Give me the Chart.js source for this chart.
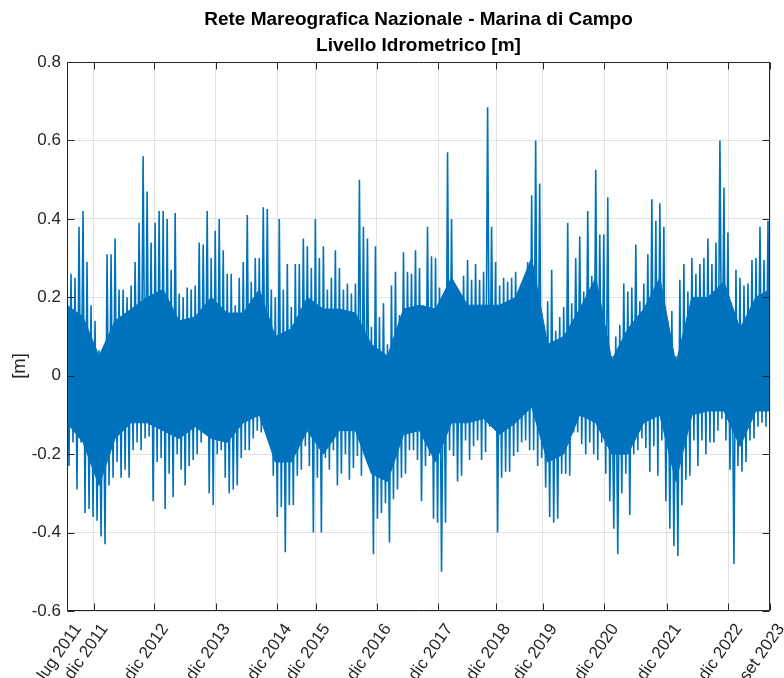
<!DOCTYPE html>
<html>
<head>
<meta charset="utf-8">
<title>Marina di Campo - Livello Idrometrico</title>
<script src="https://cdn.jsdelivr.net/npm/chart.js@4.4.1/dist/chart.umd.min.js"></script>
<style>
  html, body { margin: 0; padding: 0; background: #ffffff; }
  #wrap { width: 784px; height: 678px; position: relative; }
</style>
</head>
<body>
<div id="wrap"><canvas id="chart" width="784" height="678"></canvas></div>
<script>
// Sea level extremes per block of samples: highest and lowest reading [m]
const upperLevel = [
  0.29, 0.26, 0.25, 0.38, 0.42, 0.29, 0.18, 0.14, 0.065, 0.07,
  0.31, 0.31, 0.35, 0.22, 0.22, 0.20, 0.23, 0.29, 0.39, 0.56,
  0.47, 0.34, 0.39, 0.42, 0.42, 0.40, 0.27, 0.415, 0.21, 0.20,
  0.225, 0.22, 0.23, 0.34, 0.335, 0.42, 0.30, 0.37, 0.40, 0.32,
  0.26, 0.26, 0.18, 0.25, 0.29, 0.41, 0.24, 0.30, 0.30, 0.43,
  0.425, 0.22, 0.20, 0.40, 0.22, 0.285, 0.175, 0.285, 0.285, 0.35,
  0.33, 0.275, 0.40, 0.30, 0.33, 0.22, 0.25, 0.32, 0.275, 0.22,
  0.235, 0.21, 0.235, 0.50, 0.38, 0.35, 0.125, 0.33, 0.15, 0.185,
  0.08, 0.23, 0.265, 0.155, 0.315, 0.265, 0.26, 0.32, 0.275, 0.18,
  0.38, 0.305, 0.30, 0.225, 0.13, 0.57, 0.40, 0.225, 0.175, 0.255,
  0.295, 0.245, 0.285, 0.245, 0.265, 0.685, 0.38, 0.29, 0.23, 0.25,
  0.24, 0.25, 0.265, 0.215, 0.215, 0.29, 0.46, 0.60, 0.49, 0.13,
  0.19, 0.27, 0.115, 0.15, 0.175, 0.39, 0.185, 0.30, 0.355, 0.215,
  0.42, 0.255, 0.525, 0.36, 0.36, 0.455, 0.05, 0.10, 0.13, 0.235,
  0.215, 0.225, 0.335, 0.19, 0.235, 0.31, 0.45, 0.395, 0.44, 0.38,
  0.14, 0.165, 0.05, 0.245, 0.285, 0.215, 0.30, 0.26, 0.285, 0.30,
  0.35, 0.285, 0.34, 0.60, 0.48, 0.365, 0.13, 0.27, 0.25, 0.23,
  0.235, 0.295, 0.30, 0.38, 0.295, 0.395
];
const lowerLevel = [
  -0.23, -0.17, -0.29, -0.17, -0.35, -0.34, -0.36, -0.37, -0.41, -0.43,
  -0.28, -0.26, -0.22, -0.26, -0.24, -0.26, -0.19, -0.17, -0.19, -0.16,
  -0.155, -0.32, -0.22, -0.21, -0.34, -0.25, -0.31, -0.20, -0.24, -0.28,
  -0.23, -0.215, -0.20, -0.17, -0.145, -0.30, -0.33, -0.20, -0.19, -0.26,
  -0.30, -0.29, -0.28, -0.21, -0.19, -0.19, -0.16, -0.14, -0.145, -0.14,
  -0.13, -0.255, -0.36, -0.335, -0.45, -0.33, -0.33, -0.255, -0.24, -0.18,
  -0.23, -0.40, -0.26, -0.40, -0.21, -0.24, -0.19, -0.28, -0.25, -0.20,
  -0.265, -0.235, -0.205, -0.255, -0.17, -0.205, -0.455, -0.365, -0.35, -0.325,
  -0.425, -0.315, -0.29, -0.26, -0.25, -0.19, -0.19, -0.215, -0.32, -0.23,
  -0.205, -0.365, -0.375, -0.50, -0.375, -0.19, -0.205, -0.27, -0.255, -0.165,
  -0.215, -0.18, -0.165, -0.215, -0.195, -0.13, -0.13, -0.40, -0.26, -0.245,
  -0.245, -0.205, -0.195, -0.17, -0.165, -0.19, -0.19, -0.23, -0.21, -0.285,
  -0.36, -0.375, -0.365, -0.25, -0.25, -0.255, -0.145, -0.145, -0.175, -0.20,
  -0.17, -0.20, -0.215, -0.17, -0.25, -0.32, -0.39, -0.455, -0.30, -0.25,
  -0.355, -0.20, -0.19, -0.16, -0.185, -0.245, -0.18, -0.255, -0.165, -0.32,
  -0.39, -0.435, -0.46, -0.33, -0.265, -0.255, -0.165, -0.23, -0.165, -0.20,
  -0.17, -0.17, -0.14, -0.11, -0.165, -0.24, -0.48, -0.23, -0.245, -0.22,
  -0.165, -0.16, -0.13, -0.12, -0.13, -0.135
];

// Dense tidal band (where the trace is solid), every 4 blocks [m]
const bandPositions = [
  0, 4, 8, 12, 16, 20, 24, 28, 32, 36, 40, 44, 48, 52, 56, 60, 64, 68, 72, 76, 80, 84,
  88, 92, 96, 100, 104, 108, 112, 116, 120, 124, 128, 132, 136, 140, 144, 148, 152, 156,
  160, 164, 168, 172, 175.5
];
const bandUpper = [
  0.18, 0.15, 0.05, 0.14, 0.17, 0.20, 0.22, 0.14, 0.15, 0.20, 0.16, 0.16, 0.22, 0.10, 0.12,
  0.20, 0.17, 0.17, 0.16, 0.08, 0.05, 0.17, 0.18, 0.17, 0.25, 0.18, 0.18, 0.18, 0.20, 0.30,
  0.08, 0.10, 0.17, 0.25, 0.04, 0.12, 0.17, 0.25, 0.03, 0.20, 0.20, 0.24, 0.12, 0.20, 0.22
];
const bandLower = [
  -0.12, -0.17, -0.28, -0.16, -0.12, -0.12, -0.14, -0.16, -0.13, -0.16, -0.17, -0.12, -0.10, -0.22, -0.22,
  -0.14, -0.20, -0.14, -0.14, -0.25, -0.27, -0.15, -0.14, -0.22, -0.12, -0.12, -0.11, -0.15, -0.12, -0.08,
  -0.22, -0.20, -0.10, -0.12, -0.20, -0.20, -0.12, -0.10, -0.27, -0.10, -0.09, -0.09, -0.18, -0.09, -0.09
];

// Date ticks along the sample axis
const dateTickPositions = [0, 6.65, 21.75, 37.15, 52.45, 62.08, 77.33, 92.7, 107.1, 118.8, 134.1, 149.75, 165.1, 175.5];
const dateTickLabels = ['lug 2011', 'dic 2011', 'dic 2012', 'dic 2013', 'dic 2014', 'dic 2015', 'dic 2016',
                        'dic 2017', 'dic 2018', 'dic 2019', 'dic 2020', 'dic 2021', 'dic 2022', 'set 2023'];
const levelTicks = [-0.6, -0.4, -0.2, 0, 0.2, 0.4, 0.6, 0.8];

const titleLines = ['Rete Mareografica Nazionale - Marina di Campo', 'Livello Idrometrico [m]'];
const yAxisLabel = '[m]';

const TRACE = '#0072BD';

// Each block is traced from its high to its low reading
const spikes = [];
upperLevel.forEach((hi, i) => {
  spikes.push({ x: i, y: hi });
  spikes.push({ x: i + 0.5, y: lowerLevel[i] });
});
const bandTop = bandPositions.map((x, i) => ({ x, y: bandUpper[i] }));
const bandBottom = bandPositions.map((x, i) => ({ x, y: bandLower[i] }));

const FONT = "'Liberation Sans', Arial, Helvetica, sans-serif";
const AXIS_COLOR = '#262626';
const GRID_COLOR = 'rgba(38,38,38,0.13)';

// Box around the axes, inward tick marks and the y label
const axesFrame = {
  id: 'axesFrame',
  afterDatasetsDraw(chart) {
    const { ctx, chartArea: a, scales } = chart;
    const L = Math.round(a.left) + 0.5, R = Math.round(a.right) - 0.5;
    const T = Math.round(a.top) + 0.5, B = Math.round(a.bottom) - 0.5;
    ctx.save();
    ctx.strokeStyle = AXIS_COLOR;
    ctx.lineWidth = 1;
    ctx.beginPath();
    ctx.rect(L, T, R - L, B - T);
    const tl = 7;
    scales.x.ticks.forEach(t => {
      const px = Math.round(scales.x.getPixelForValue(t.value)) + 0.5;
      ctx.moveTo(px, B); ctx.lineTo(px, B - tl);
      ctx.moveTo(px, T); ctx.lineTo(px, T + tl);
    });
    scales.y.ticks.forEach(t => {
      const py = Math.round(scales.y.getPixelForValue(t.value)) + 0.5;
      ctx.moveTo(L, py); ctx.lineTo(L + tl, py);
      ctx.moveTo(R, py); ctx.lineTo(R - tl, py);
    });
    ctx.stroke();

    ctx.fillStyle = AXIS_COLOR;
    ctx.font = '18.5px ' + FONT;
    ctx.textAlign = 'center';
    ctx.textBaseline = 'middle';
    ctx.translate(20, 366);
    ctx.rotate(-Math.PI / 2);
    ctx.fillText(yAxisLabel, 0, 0);
    ctx.restore();
  }
};

new Chart(document.getElementById('chart'), {
  type: 'line',
  data: {
    datasets: [
      {
        data: bandTop,
        borderColor: TRACE,
        borderWidth: 1,
        backgroundColor: TRACE,
        pointRadius: 0,
        tension: 0,
        fill: '+1'
      },
      {
        data: bandBottom,
        borderColor: TRACE,
        borderWidth: 1,
        pointRadius: 0,
        tension: 0,
        fill: false
      },
      {
        data: spikes,
        borderColor: TRACE,
        borderWidth: 1.6,
        pointRadius: 0,
        tension: 0,
        fill: false
      }
    ]
  },
  options: {
    responsive: false,
    animation: false,
    events: [],
    layout: { padding: { left: 0, right: 14, top: 0, bottom: 0 } },
    plugins: {
      legend: { display: false },
      tooltip: { enabled: false },
      title: {
        display: true,
        text: titleLines,
        fullSize: false,
        color: '#000000',
        font: { family: FONT, size: 19, weight: 'bold', lineHeight: 1.37 },
        padding: { top: 7, bottom: 3 }
      }
    },
    scales: {
      x: {
        type: 'linear',
        min: 0,
        max: 175.5,
        afterBuildTicks: axis => { axis.ticks = dateTickPositions.map(v => ({ value: v })); },
        afterFit: axis => {
          axis.height = 67;
          // rotated end labels may run past the plot box, as in the printed figure
          axis.paddingLeft = 0;
          axis.paddingRight = 0;
        },
        ticks: {
          autoSkip: false,
          minRotation: 55,
          maxRotation: 55,
          padding: 9,
          labelOffset: 11,
          color: AXIS_COLOR,
          font: { family: FONT, size: 17 },
          callback: (v, i) => dateTickLabels[i]
        },
        grid: { color: GRID_COLOR, drawTicks: false },
        border: { display: false }
      },
      y: {
        type: 'linear',
        min: -0.6,
        max: 0.8,
        afterBuildTicks: axis => { axis.ticks = levelTicks.map(v => ({ value: v })); },
        afterFit: axis => { axis.width = 67; },
        ticks: {
          padding: 6,
          color: AXIS_COLOR,
          font: { family: FONT, size: 17 },
          callback: v => String(Number(v.toFixed(1)))
        },
        grid: { color: GRID_COLOR, drawTicks: false },
        border: { display: false }
      }
    }
  },
  plugins: [axesFrame]
});
</script>
</body>
</html>
